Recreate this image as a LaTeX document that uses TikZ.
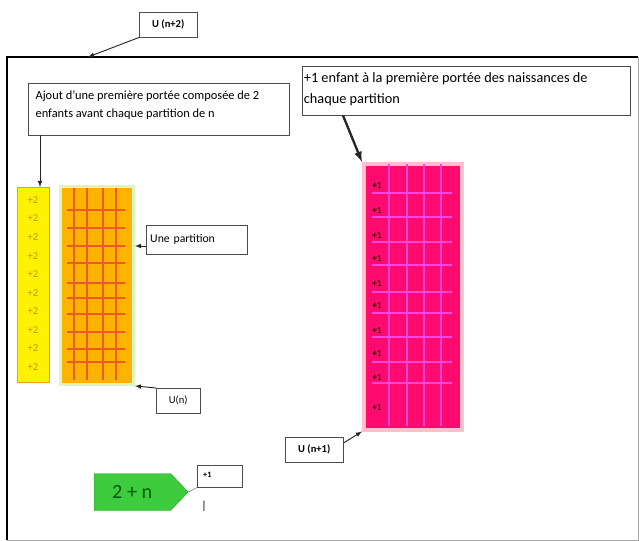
\documentclass[tikz,border=0pt]{standalone}
\usepackage{fontspec}
\setmainfont{Carlito}
\usetikzlibrary{shapes,shapes.symbols,arrows,positioning}

\definecolor{stripyellow}{HTML}{FFF200}
\definecolor{stripedge}{HTML}{E8A317}
\definecolor{gridorange}{HTML}{FFB300}
\definecolor{lineorange}{HTML}{EE5A24}
\definecolor{glowgreen}{HTML}{DDF5C4}
\definecolor{gridpink}{HTML}{FF0A6E}
\definecolor{linepink}{HTML}{FF44DD}
\definecolor{glowpink}{HTML}{FFC0CC}
\definecolor{arrowgreen}{HTML}{3DCC3D}

\tikzset{
  txtbox/.style={draw=black!70, fill=white, inner sep=0pt, anchor=north west},
  conn/.style={-latex, thick, black!85},
}

\begin{document}
\begin{tikzpicture}[x=0.03cm, y=-0.03cm]
        \useasboundingbox (0,0) rectangle (639,541);

        % Outer frame U(n+2)
        \draw[black!35] (7,540) -- (638,540) -- (638,57);
        \draw[line width=2pt] (7,540) -- (7,57) -- (638,57);
        \coordinate (frametop) at (88,57);

        % Labels boxes
        \node[txtbox, minimum width=1.74cm, minimum height=0.75cm] (un2) at (139,12) {\small\bfseries U (n+2)};
        \node[txtbox] (ajout) at (28,83) {\parbox[t][1.56cm][t]{7.83cm}{\hspace*{0.22cm}\parbox[t]{7.5cm}{\vspace*{0.24cm}\fontsize{10.6}{14.6}\selectfont Ajout d'une première portée composée de 2\\ enfants avant chaque partition de n}}};
        \node[txtbox] (enfant) at (302,66) {\parbox[t][1.47cm][t]{9.84cm}{\hspace*{0.05cm}\parbox[t]{9.7cm}{\vspace*{0.2cm}\fontsize{12.2}{17.8}\selectfont +1 enfant à la première portée des naissances de\\ chaque partition}}};
        \node[txtbox, minimum width=3.03cm, minimum height=0.87cm, align=left, text width=2.8cm, inner xsep=0.12cm] (partition) at (146,225) {\raisebox{2pt}{\fontsize{10}{12}\selectfont Une partition}};
        \node[txtbox, minimum width=1.32cm, minimum height=0.75cm] (un) at (156,388) {\small U(n)};
        \node[txtbox, minimum width=1.74cm, minimum height=0.75cm] (un1) at (285,437) {\small\bfseries U (n+1)};

        % Yellow strip of +2
        \node[anchor=north west, draw=stripedge, fill=stripyellow, minimum width=0.96cm, minimum height=5.85cm] (strip) at (17,187) {};
        \foreach \i in {0,...,9}
          \node[text=stripedge!90!black, font=\small] (two\i) at (33,200+18.55*\i) {+2};

        % Orange partitions U(n)
        \node[anchor=north west, draw=glowgreen, line width=2.5pt, fill=gridorange, minimum width=2.19cm, minimum height=5.94cm] (ugrid) at (59,185) {};
        \foreach \x in {74,87,103,116}
          \draw[lineorange, line width=1pt] (\x,188) -- (\x,380);
        \foreach \y in {210,228,246,263,283,298,314,332,349,362}
          \draw[lineorange, line width=1pt] (67,\y) -- (125,\y);

        % Pink partitions U(n+1)
        \node[anchor=north west, draw=glowpink, line width=3pt, fill=gridpink, minimum width=2.94cm, minimum height=7.98cm] (pgrid) at (362,162) {};
        \foreach \x in {389,407,424,441}
          \draw[linepink, line width=1.2pt] (\x,164) -- (\x,426);
        \foreach \y in {193,217,242,265,292,313,337,362,383}
          \draw[linepink, line width=1.2pt] (372,\y) -- (452,\y);
        \foreach \y [count=\k] in {185,210,235,258,283,305,330,353,377,407}
          \node[text=black!75!red, font=\footnotesize\bfseries] (one\k) at (377,\y) {+1};

        % Green arrow 2+n
        \node[signal, signal to=east, signal pointer angle=92, draw=arrowgreen!80!black, fill=arrowgreen, minimum width=2.82cm, minimum height=1.11cm, anchor=west, text=green!35!black, font=\LARGE] (sig) at (94,492) {2 + n};
        \node[txtbox, minimum width=1.23cm, minimum height=0.66cm, align=left, text width=1.0cm, inner xsep=0.18cm] (plus) at (197,465) {\raisebox{2pt}{\scriptsize\bfseries +1}};
        \node (cursor) at (204,506) {|};

        % Connectors
        \draw[conn] (un2.south west) -- (frametop);
        \draw[conn] (ajout.south west) ++(12,0) coordinate (ajoutfoot) -- (strip.north -| ajoutfoot);
        \draw[-latex, line width=2pt, black!85] (enfant.south west) ++(41,0) coordinate (enfantfoot) -- (pgrid.north west);
        \draw[conn] (partition.west |- 0,246) coordinate (partfoot) -- (ugrid.east |- partfoot);
        \draw[conn] (un.north west) -- (ugrid.south east);
        \draw[conn] (un1.east |- 0,443) coordinate (un1foot) -- (pgrid.south west);
        \draw[black!60] (sig.east) -- (plus.south west);
\end{tikzpicture}
\end{document}
